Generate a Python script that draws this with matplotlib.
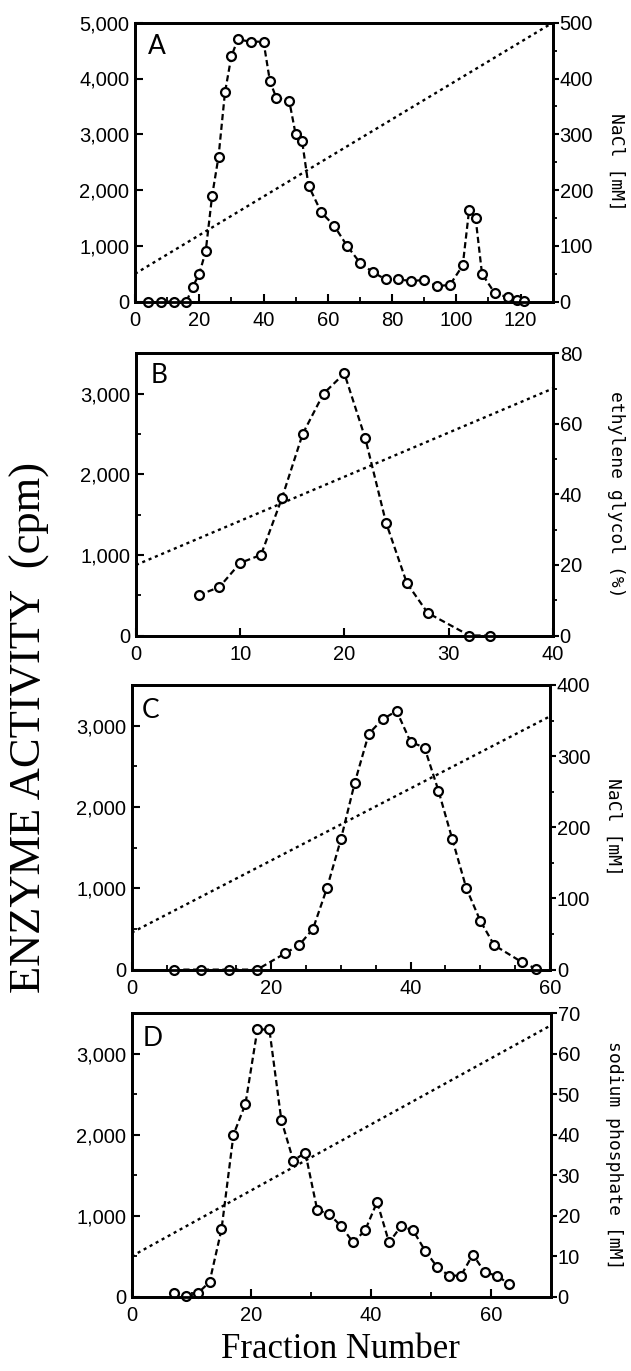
import matplotlib
matplotlib.use("Agg")
import matplotlib.pyplot as plt
from matplotlib.ticker import MultipleLocator, FuncFormatter

# ---------------- data ----------------
A_x = [4, 8, 12, 16, 18, 20, 22, 24, 26, 28, 30, 32, 36, 40, 42, 44, 48, 50, 52, 54,
       58, 62, 66, 70, 74, 78, 82, 86, 90, 94, 98, 102, 104, 106, 108, 112, 116, 119, 121]
A_y = [0, 0, 0, 0, 270, 500, 900, 1900, 2600, 3750, 4400, 4700, 4660, 4660, 3950, 3650,
       3600, 3000, 2880, 2080, 1600, 1360, 1000, 700, 530, 400, 400, 370, 390, 280, 300,
       650, 1650, 1500, 500, 150, 80, 30, 10]
A_grad_x = [0, 130]
A_grad_y = [50, 500]

B_x = [6, 8, 10, 12, 14, 16, 18, 20, 22, 24, 26, 28, 32, 34]
B_y = [500, 600, 900, 1000, 1700, 2500, 3000, 3250, 2450, 1400, 650, 280, 0, 0]
B_grad_x = [0, 40]
B_grad_y = [20, 70]

C_x = [6, 10, 14, 18, 22, 24, 26, 28, 30, 32, 34, 36, 38, 40, 42, 44, 46, 48, 50, 52, 56, 58]
C_y = [0, 0, 0, 0, 200, 300, 500, 1000, 1600, 2300, 2900, 3080, 3180, 2800, 2730, 2200,
       1600, 1000, 600, 300, 90, 10]
C_grad_x = [0, 60]
C_grad_y = [52, 356]

D_x = [7, 9, 11, 13, 15, 17, 19, 21, 23, 25, 27, 29, 31, 33, 35, 37, 39, 41, 43, 45, 47,
       49, 51, 53, 55, 57, 59, 61, 63]
D_y = [40, 10, 40, 180, 830, 2000, 2380, 3300, 3300, 2180, 1680, 1780, 1070, 1020, 870,
       670, 820, 1170, 670, 870, 820, 570, 370, 260, 260, 520, 300, 260, 160]
D_grad_x = [0, 70]
D_grad_y = [10, 67]

letters = ["A", "B", "C", "D"]
right_labels = ["NaCl [mM]", "ethylene glycol (%)", "NaCl [mM]", "sodium phosphate [mM]"]
y_label = "ENZYME ACTIVITY  (cpm)"
x_label = "Fraction Number"

# ---------------- layout ----------------
W, H = 631, 1371
fig = plt.figure(figsize=(W / 100, H / 100), dpi=100)


def rect(l, r, t, b):
    return [l / W, 1 - b / H, (r - l) / W, (b - t) / H]


panels = [
    dict(x=A_x, y=A_y, gx=A_grad_x, gy=A_grad_y, xlim=(0, 130), ylim=(0, 5000), rlim=(0, 500),
         xmaj=20, xmin=10, ymin=None, rmaj=100, rmin=50,
         rect=rect(135, 552.7, 22.7, 301.7), lpos=(0.031, 0.915)),
    dict(x=B_x, y=B_y, gx=B_grad_x, gy=B_grad_y, xlim=(0, 40), ylim=(0, 3500), rlim=(0, 80),
         xmaj=10, xmin=None, ymin=500, rmaj=20, rmin=10,
         rect=rect(136, 552.7, 353.3, 635.5), lpos=(0.034, 0.92)),
    dict(x=C_x, y=C_y, gx=C_grad_x, gy=C_grad_y, xlim=(0, 60), ylim=(0, 3500), rlim=(0, 400),
         xmaj=20, xmin=5, ymin=500, rmaj=100, rmin=50,
         rect=rect(131.7, 550, 685, 969.6), lpos=(0.024, 0.91)),
    dict(x=D_x, y=D_y, gx=D_grad_x, gy=D_grad_y, xlim=(0, 70), ylim=(0, 3500), rlim=(0, 70),
         xmaj=20, xmin=10, ymin=500, rmaj=10, rmin=None,
         rect=rect(131.7, 550.7, 1013.3, 1296.7), lpos=(0.027, 0.91)),
]

tick_font = "Liberation Sans"
fmt = FuncFormatter(lambda v, p: f"{int(round(v)):,}")

for i, p in enumerate(panels):
    ax = fig.add_axes(p["rect"])
    tw = ax.twinx()
    tw.plot(p["gx"], p["gy"], color="k", ls=(0, (1.3, 1.6)), lw=1.7)
    ax.plot(p["x"], p["y"], color="k", ls=(0, (2.8, 1.6)), lw=1.6, marker="o", ms=6.4,
            mfc="white", mec="k", mew=1.6, clip_on=False)
    ax.set_zorder(tw.get_zorder() + 1)
    ax.patch.set_visible(False)

    ax.set_xlim(*p["xlim"])
    ax.set_ylim(*p["ylim"])
    tw.set_ylim(*p["rlim"])

    ax.xaxis.set_major_locator(MultipleLocator(p["xmaj"]))
    if p["xmin"]:
        ax.xaxis.set_minor_locator(MultipleLocator(p["xmin"]))
    ax.yaxis.set_major_locator(MultipleLocator(1000))
    if p["ymin"]:
        ax.yaxis.set_minor_locator(MultipleLocator(p["ymin"]))
    ax.yaxis.set_major_formatter(fmt)
    tw.yaxis.set_major_locator(MultipleLocator(p["rmaj"]))
    if p["rmin"]:
        tw.yaxis.set_minor_locator(MultipleLocator(p["rmin"]))

    ax.tick_params(axis="both", which="both", direction="in", top=False, right=False,
                   labelsize=14.5, colors="k")
    ax.tick_params(which="major", length=6, width=1.5)
    ax.tick_params(which="minor", length=3.5, width=1.3)
    ax.tick_params(axis="y", pad=4)
    ax.tick_params(axis="x", pad=7)
    tw.tick_params(axis="y", which="both", direction="out", labelsize=14.5, pad=1)
    tw.tick_params(axis="y", which="major", length=4, width=1.5)
    tw.tick_params(axis="y", which="minor", length=3, width=1.3)

    for lab in ax.get_xticklabels() + ax.get_yticklabels() + tw.get_yticklabels():
        lab.set_fontfamily(tick_font)

    for s in ax.spines.values():
        s.set_linewidth(2.0)
    for s in tw.spines.values():
        s.set_linewidth(2.0)

    ax.text(p["lpos"][0], p["lpos"][1], letters[i], transform=ax.transAxes,
            ha="left", va="center", fontsize=19, family="Lato")

    r = p["rect"]
    fig.text((r[0] + r[2]) + 0.10, r[1] + r[3] / 2, right_labels[i], rotation=270,
             ha="center", va="center", fontsize=13, family="DejaVu Sans Mono")

fig.text(30 / W, 1 - 727 / H, y_label, rotation=90, ha="center", va="center",
         fontsize=32, family="Liberation Serif")
fig.text(340 / W, 1 - 1350 / H, x_label, ha="center", va="center",
         fontsize=25, family="Liberation Serif")

fig.savefig("out.png", dpi=100)
